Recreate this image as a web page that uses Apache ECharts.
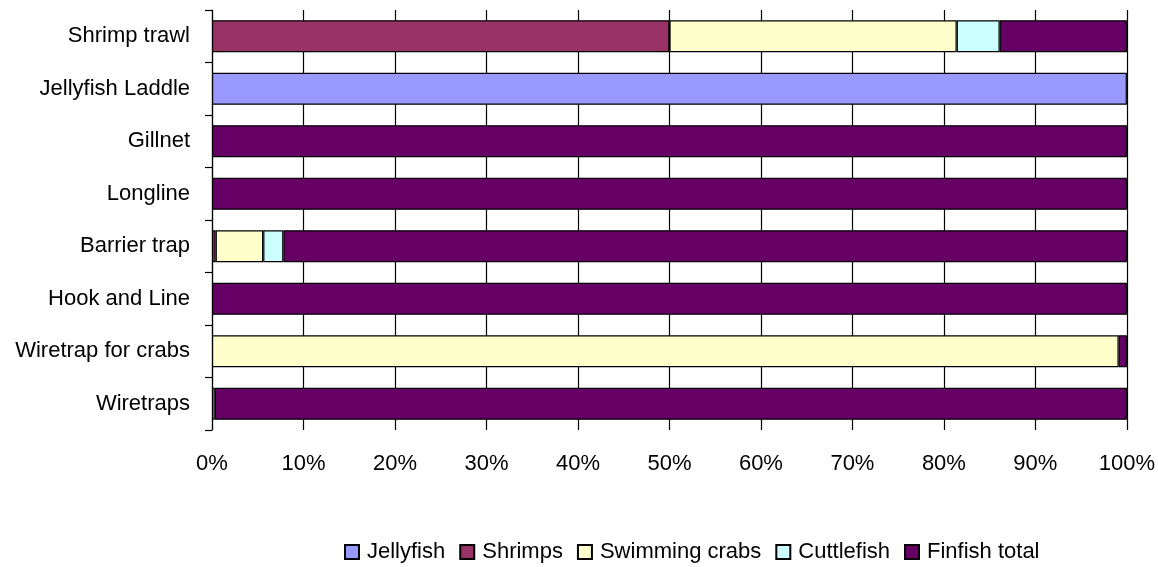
<!DOCTYPE html>
<html>
<head>
<meta charset="utf-8">
<script src="https://cdn.jsdelivr.net/npm/echarts@6/dist/echarts.min.js"></script>
<style>html,body{margin:0;padding:0;background:#fff}#c{width:1158px;height:567px}</style>
</head>
<body>
<div id="c"></div>
<script>
var categories = ["Shrimp trawl","Jellyfish Laddle","Gillnet","Longline","Barrier trap","Hook and Line","Wiretrap for crabs","Wiretraps"];
var jellyfish = [null,100,null,null,null,null,null,null];
var shrimps = [50,null,null,null,0.4,null,null,null];
var swimmingCrabs = [31.4,null,null,null,5.2,null,99.1,0.3];
var cuttlefish = [4.7,null,null,null,2.2,null,null,null];
var finfishTotal = [13.9,null,100,100,92.2,100,0.9,99.7];
var xTicks = [0,10,20,30,40,50,60,70,80,90,100];

var font = "'Liberation Sans', Arial, sans-serif";
function mk(name, data, color){
  return {name:name, type:'bar', stack:'all', data:data, barCategoryGap:'39%',
    itemStyle:{color:color, borderColor:'#000', borderWidth:1.2}};
}
var chart = echarts.init(document.getElementById('c'));
chart.setOption({
  animation:false,
  textStyle:{fontFamily:font},
  grid:{left:212, right:30, top:10, height:420, containLabel:false},
  legend:{top:536, left:339, itemWidth:14, itemHeight:14, itemGap:14,
    icon:'rect', textStyle:{fontFamily:font, fontSize:22, color:'#000', padding:[0,0,0,3]},
    data:['Jellyfish','Shrimps','Swimming crabs','Cuttlefish','Finfish total']},
  xAxis:{type:'value', min:0, max:100, interval:10,
    axisLine:{show:false}, axisTick:{show:false},
    splitLine:{show:true, lineStyle:{color:'#000', width:1.2}},
    axisLabel:{formatter:function(v){return xTicks.indexOf(v)>=0? v+'%':'';}, margin:23, color:'#000', fontSize:22, fontFamily:font}},
  yAxis:{type:'category', data:categories, inverse:true,
    axisLine:{show:true, lineStyle:{color:'#000', width:1.2}},
    axisTick:{show:true, length:7, lineStyle:{color:'#000', width:1.2}},
    axisLabel:{margin:22, color:'#000', fontSize:22, fontFamily:font}},
  series:[
    mk('Jellyfish', jellyfish, '#9999FF'),
    mk('Shrimps', shrimps, '#993366'),
    mk('Swimming crabs', swimmingCrabs, '#FFFFCC'),
    mk('Cuttlefish', cuttlefish, '#CCFFFF'),
    mk('Finfish total', finfishTotal, '#660066')
  ]
});
</script>
</body>
</html>
